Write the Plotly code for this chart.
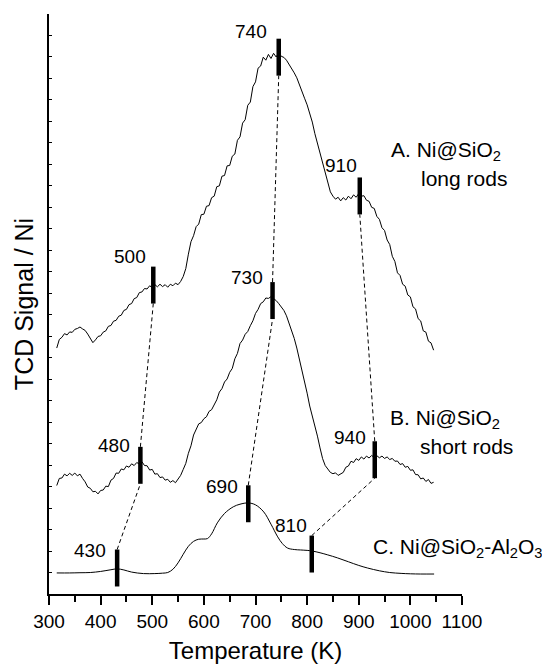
import plotly.graph_objects as go

# ---------------- data ----------------
# Temperature grid (K) of the two noisy TPR traces
T_A = list(range(315, 1050, 5))
S_A = [
    11.45, 11.85, 11.95, 12.12, 12.06, 12.20, 12.18, 12.32, 12.36, 12.43,   # 315-360
    12.34, 12.27, 12.10, 11.92, 11.70, 11.83, 11.99, 12.02, 12.19, 12.25,   # 365-410
    12.46, 12.50, 12.70, 12.74, 12.93, 12.98, 13.20, 13.25, 13.47, 13.52,   # 415-460
    13.75, 13.80, 14.03, 14.06, 14.22, 14.20, 14.35, 14.26, 14.40, 14.30,   # 465-510
    14.42, 14.31, 14.40, 14.28, 14.42, 14.35, 14.47, 14.40, 14.55, 14.78,   # 515-560
    15.15, 15.82, 16.40, 16.68, 17.10, 17.22, 17.66, 17.68, 18.05, 18.08,   # 565-610
    18.45, 18.52, 18.96, 19.00, 19.45, 19.48, 19.93, 19.95, 20.38, 20.48,   # 615-660
    21.12, 21.28, 21.92, 22.08, 22.75, 22.90, 23.62, 23.84, 24.48, 24.58,   # 665-710
    24.99, 24.85, 25.12, 24.93, 25.17, 25.00, 25.20, 25.03, 24.98, 24.85,   # 715-760
    24.66, 24.50, 24.26, 24.03, 23.73, 23.47, 23.08, 22.77, 22.36, 21.97,   # 765-810
    21.43, 20.97, 20.43, 20.02, 19.52, 19.12, 18.72, 18.52, 18.38, 18.47,   # 815-860
    18.30, 18.45, 18.34, 18.52, 18.40, 18.58, 18.47, 18.64, 18.52, 18.54,   # 865-910
    18.33, 18.28, 18.00, 17.95, 17.58, 17.44, 17.05, 16.92, 16.48, 16.27,   # 915-960
    15.72, 15.48, 14.95, 14.83, 14.42, 14.33, 13.92, 13.83, 13.37, 13.27,   # 965-1010
    12.82, 12.71, 12.25, 12.19, 11.77, 11.69, 11.35,                        # 1015-1045
]

T_B = list(range(315, 1050, 5))
S_B = [
    5.05, 5.38, 5.40, 5.58, 5.50, 5.62, 5.52, 5.63, 5.50, 5.58,   # 315-360
    5.38, 5.22, 4.98, 4.92, 4.76, 4.78, 4.66, 4.82, 4.84, 5.02,   # 365-410
    5.00, 5.30, 5.38, 5.63, 5.62, 5.82, 5.78, 5.96, 5.90, 6.06,   # 415-460
    5.98, 6.12, 6.05, 6.16, 5.98, 5.97, 5.77, 5.80, 5.58, 5.60,   # 465-510
    5.42, 5.45, 5.30, 5.34, 5.20, 5.28, 5.18, 5.38, 5.52, 5.80,   # 515-560
    6.08, 6.55, 6.90, 7.40, 7.68, 7.92, 7.98, 8.16, 8.25, 8.50,   # 565-610
    8.58, 8.85, 9.04, 9.40, 9.56, 9.87, 10.01, 10.32, 10.50, 10.95,  # 615-660
    11.20, 11.66, 11.82, 12.09, 12.22, 12.49, 12.72, 13.06, 13.25, 13.52,  # 665-710
    13.60, 13.78, 13.76, 13.84, 13.75, 13.66, 13.52, 13.37, 13.20, 12.95,  # 715-760
    12.62, 12.28, 11.90, 11.45, 10.95, 10.45, 9.95, 9.35, 8.75, 8.32,   # 765-810
    7.90, 7.35, 6.80, 6.30, 5.98, 5.80, 5.66, 5.60, 5.64, 5.52,   # 815-860
    5.60, 5.66, 5.90, 5.96, 6.18, 6.12, 6.30, 6.22, 6.38, 6.28,   # 865-910
    6.42, 6.33, 6.45, 6.35, 6.44, 6.34, 6.42, 6.31, 6.38, 6.26,   # 915-960
    6.31, 6.18, 6.19, 6.03, 6.07, 5.90, 5.94, 5.76, 5.78, 5.56,   # 965-1010
    5.55, 5.36, 5.40, 5.24, 5.33, 5.15, 5.20,                     # 1015-1045
]

T_C = [315, 340, 360, 380, 400, 420, 432, 445, 460, 483, 505, 520, 530, 540, 550,
       560, 570, 580, 590, 600, 607, 615, 626, 640, 657, 670, 686, 700, 716, 730,
       743, 752, 762, 775, 787, 800, 810, 825, 840, 859, 880, 900, 917, 940, 960,
       982, 1000, 1020, 1046]
S_C = [0.98, 0.98, 0.99, 1.00, 1.05, 1.13, 1.17, 1.12, 1.02, 0.95, 0.95, 0.97, 1.00, 1.15, 1.45,
       1.85, 2.22, 2.45, 2.55, 2.56, 2.58, 2.80, 3.31, 3.75, 4.06, 4.18, 4.24, 4.15, 3.82, 3.25,
       2.66, 2.35, 2.14, 2.07, 2.05, 2.03, 2.00, 1.92, 1.82, 1.68, 1.50, 1.33, 1.21, 1.08, 1.00,
       0.96, 0.94, 0.93, 0.93]

# peak markers (label, temperature position of the bar, signal at bar centre)
PEAK_LABELS_A = ["500", "740", "910"]
PEAK_T_A = [502, 745, 902]
PEAK_S_A = [14.38, 24.99, 18.53]

PEAK_LABELS_B = ["480", "730", "940"]
PEAK_T_B = [477, 733, 931]
PEAK_S_B = [5.99, 13.66, 6.25]

PEAK_LABELS_C = ["430", "690", "810"]
PEAK_T_C = [432, 686, 809]
PEAK_S_C = [1.21, 4.20, 1.86]

X_TICKS = [300, 400, 500, 600, 700, 800, 900, 1000, 1100]

# ---------------- styling ----------------
FONT = "Liberation Sans, Arial, Helvetica, sans-serif"
BAR_HALF = 0.86
# label offsets in px relative to top of each bar (xshift, yshift)
LABEL_SHIFT_A = [(-5, 10), (-10, 7), (-1, 12)]
LABEL_SHIFT_B = [(-8, 1), (-8, 5), (-7, 4)]
LABEL_SHIFT_C = [(-9, -1), (-8, -1), (-3, 10)]

fig = go.Figure()

line_style = dict(color="black", width=1)
fig.add_trace(go.Scatter(x=T_A, y=S_A, mode="lines", line=line_style, hoverinfo="skip"))
fig.add_trace(go.Scatter(x=T_B, y=S_B, mode="lines", line=line_style, hoverinfo="skip"))
fig.add_trace(go.Scatter(x=T_C, y=S_C, mode="lines",
                         line=dict(color="black", width=1, shape="spline", smoothing=1.0),
                         hoverinfo="skip"))

# dashed connectors between peaks of successive traces
cx, cy = [], []
for i in range(3):
    cx += [PEAK_T_C[i], PEAK_T_B[i], None, PEAK_T_B[i], PEAK_T_A[i], None]
    cy += [PEAK_S_C[i] + BAR_HALF, PEAK_S_B[i] - BAR_HALF, None,
           PEAK_S_B[i] + BAR_HALF, PEAK_S_A[i] - BAR_HALF, None]
fig.add_trace(go.Scatter(x=cx, y=cy, mode="lines",
                         line=dict(color="black", width=1, dash="4px,3px"),
                         hoverinfo="skip"))

# thick peak bars
bx, by = [], []
for Ts, Ss in ((PEAK_T_A, PEAK_S_A), (PEAK_T_B, PEAK_S_B), (PEAK_T_C, PEAK_S_C)):
    for t, s in zip(Ts, Ss):
        bx += [t, t, None]
        by += [s - BAR_HALF, s + BAR_HALF, None]
fig.add_trace(go.Scatter(x=bx, y=by, mode="lines",
                         line=dict(color="black", width=4.5), hoverinfo="skip"))

annotations = []
for labels, Ts, Ss, shifts in (
    (PEAK_LABELS_A, PEAK_T_A, PEAK_S_A, LABEL_SHIFT_A),
    (PEAK_LABELS_B, PEAK_T_B, PEAK_S_B, LABEL_SHIFT_B),
    (PEAK_LABELS_C, PEAK_T_C, PEAK_S_C, LABEL_SHIFT_C),
):
    for lab, t, s, (dx, dy) in zip(labels, Ts, Ss, shifts):
        annotations.append(dict(x=t, y=s + BAR_HALF, xref="x", yref="y", text=lab,
                                showarrow=False, xanchor="right", yanchor="middle",
                                xshift=dx, yshift=dy,
                                font=dict(family=FONT, size=19, color="black")))

series_text = [
    ("A. Ni@SiO<sub>2</sub>", 958, 20.62, 21),
    ("long rods", 1016, 19.35, 21),
    ("B. Ni@SiO<sub>2</sub>", 956, 8.17, 21),
    ("short rods", 1014, 6.85, 21),
    ("C. Ni@SiO<sub>2</sub>-Al<sub>2</sub>O<sub>3</sub>", 923, 2.12, 21),
]
for txt, x, y, fs in series_text:
    annotations.append(dict(x=x, y=y, xref="x", yref="y", text=txt, showarrow=False,
                            xanchor="left", yanchor="middle",
                            font=dict(family=FONT, size=fs, color="black")))

fig.update_layout(
    width=542, height=664,
    margin=dict(l=49, r=80, t=14, b=70, autoexpand=False),
    paper_bgcolor="white", plot_bgcolor="white",
    showlegend=False,
    font=dict(family=FONT, color="black"),
    annotations=annotations,
)
fig.update_xaxes(
    range=[300, 1100], tickvals=X_TICKS, ticktext=[str(v) for v in X_TICKS],
    showline=True, linecolor="black", linewidth=2, mirror=False,
    ticks="outside", ticklen=9, tickwidth=2, tickcolor="black",
    minor=dict(dtick=50, ticks="outside", ticklen=6, tickwidth=2, tickcolor="black"),
    tickfont=dict(family=FONT, size=19, color="black"),
    showgrid=False, zeroline=False, automargin=False,
    title=dict(text="Temperature (K)", font=dict(family=FONT, size=24, color="black"),
               standoff=12),
)
fig.update_yaxes(
    range=[0, 27], dtick=1, tick0=0,
    showline=True, linecolor="black", linewidth=2,
    ticks="inside", ticklen=3, tickwidth=1, tickcolor="black",
    showticklabels=False, showgrid=False, zeroline=False, automargin=False,
    title=dict(text="TCD Signal / Ni", font=dict(family=FONT, size=25, color="black"),
               standoff=6),
)

fig.write_html(
    "out.html",
    config={"displayModeBar": False},
    post_script="document.body.style.margin='0';document.body.style.overflow='hidden';",
)
